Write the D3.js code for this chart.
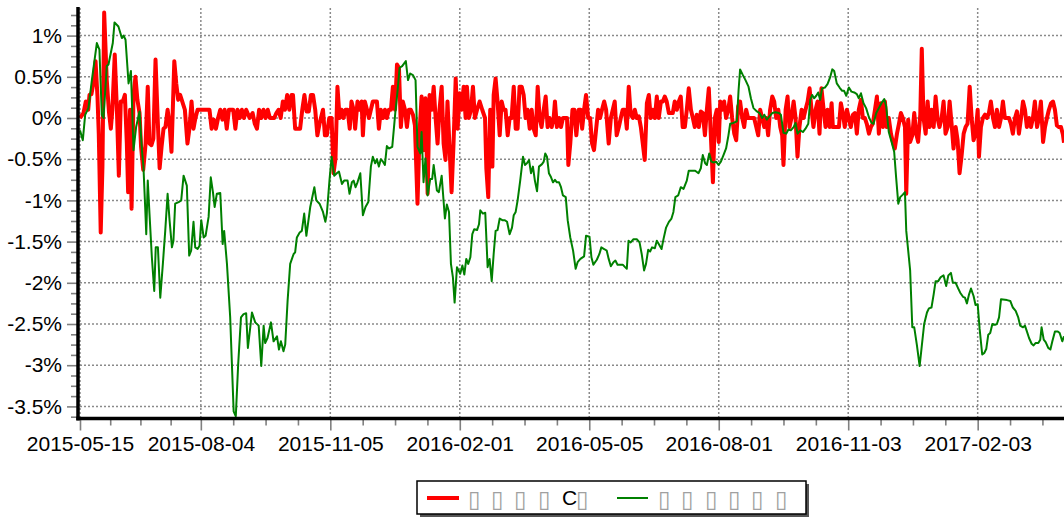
<!DOCTYPE html>
<html><head><meta charset="utf-8">
<script src="https://cdn.jsdelivr.net/npm/d3@7"></script>
<style>body{margin:0;background:#fff}svg{display:block}</style>
</head><body>
<svg id="c" width="1064" height="519"></svg>
<script>
// trading-day index of each labelled date
const tickPos = [0, 56, 116, 176, 236, 296, 356, 416];
const tickLabels = ["2015-05-15","2015-08-04","2015-11-05","2016-02-01","2016-05-05","2016-08-01","2016-11-03","2017-02-03"];
const yTickValues = [1, 0.5, 0, -0.5, -1, -1.5, -2, -2.5, -3, -3.5];
const lastIndex = 456;
// legend labels as they appear (missing-glyph boxes)
const seriesNames = ["\u25AF\u25AF\u25AF\u25AFC\u25AF", "\u25AF\u25AF\u25AF\u25AF\u25AF\u25AF"];
const seriesColors = ["#ff0000", "#008000"];

// [trading-day index, value in %]
const redPoints = [[0,0],[1.6,0.06],[2.7,0.2],[3.8,0.1],[4.4,0.28],[5.3,0.29],[6.2,0.42],[7.2,0.69],[8.1,0.26],[8.7,-0.19],[9.6,-1.39],[10.4,-0.59],[11.2,1.28],[12.4,0.46],[13.4,0.08],[14.3,-0.13],[15,0.1],[16.1,0.77],[17.1,0.1],[18,-0.7],[18.9,0.2],[19.8,0.2],[20.8,0.28],[21.7,-0.31],[22.3,-0.9],[23.2,0.1],[23.9,-1.1],[24.8,0.28],[25.7,0.5],[26.6,0.22],[27.6,0.06],[28.3,-0.35],[29.3,-0.63],[30.4,-0.31],[31.4,0.38],[32.2,-0.31],[33.1,-0.33],[34,-0.25],[35,0.71],[35.9,0.06],[36.9,-0.61],[37.8,-0.35],[38.7,-0.13],[39.6,-0.11],[40.6,0.1],[41.5,-0.07],[42.4,-0.41],[43.7,0.69],[44.6,0.42],[45.5,0.22],[46.4,0.28],[47.4,0.2],[48.6,0.1],[49.8,-0.31],[50.7,-0.13],[51.7,0.2],[52.6,-0.13],[53.5,0],[54.5,0.1],[56,0.1],[60,0.1],[61,-0.13],[62,-0.02],[63,-0.13],[64,0],[65,0.1],[66,-0.02],[67,0.1],[68,-0.13],[69,0.1],[71,0.1],[72,-0.13],[73,0.1],[74,0],[75,0.1],[76,0],[77,0.1],[78.6,0],[80,0.06],[81,-0.07],[82,-0.13],[83,0.1],[84,0],[85,0.1],[86,0],[87,0.1],[88,0],[90,0],[91,0.06],[92,0.1],[93,0],[94,0.2],[95,0.1],[96,0.28],[97,0.1],[98,0.28],[98.7,0.28],[99.7,-0.13],[100.8,-0.13],[102,-0.13],[103,0.1],[104,0.28],[105,0.08],[106,0.08],[107,0.28],[108,0.28],[109,0.1],[110,-0.21],[111,-0.07],[112.6,0.1],[113.5,-0.21],[114.4,-0.21],[115.5,0],[116.6,0],[117.5,-0.67],[118.4,-0.49],[119.3,0.38],[120.3,0],[121.2,0.1],[122.1,0],[123,0.1],[124,0.1],[125,-0.13],[125.8,0.2],[126.8,0.1],[127.5,-0.13],[128.6,0.2],[129.5,0.1],[130.5,0.2],[131.1,-0.21],[132,0.2],[133,0.1],[133.9,0],[134.8,0.1],[135.7,0.2],[137.6,0.2],[138.5,-0.13],[139.4,0.1],[140.4,0],[141.3,0.1],[142.2,0],[143.1,0.1],[144.1,0.1],[145,0.38],[146,0.1],[146.9,0.65],[147.8,0.61],[148.7,-0.11],[149.6,0.2],[150.6,0.1],[151.5,-0.11],[152.4,0.1],[153.3,0.1],[154.3,0.04],[155.2,-0.09],[156.4,-1.04],[157.4,-0.15],[158.3,0.26],[159.2,-0.39],[160.1,0.24],[161.1,-0.92],[162,0.28],[163,0.1],[163.9,0.38],[164.8,0],[165.7,-0.31],[166.6,0.1],[167.6,0.38],[168.5,-0.31],[169.4,-0.51],[170.3,0.2],[171.3,-0.39],[172.2,-0.9],[173.1,-0.31],[174.1,0.48],[175,-0.13],[175.9,0.3],[176.8,0.1],[177.8,0.38],[178.7,0],[179.3,0.38],[180.2,0],[181.2,0.1],[182.1,0.38],[183,0],[184,0.1],[185.2,0.2],[186.4,0.1],[187.7,0],[188.3,-0.61],[189.2,-0.96],[190.1,0.1],[191.1,-0.59],[191.7,0.28],[192.6,0.48],[193.5,0.2],[194.5,-0.21],[195.4,0.2],[196.3,0.1],[197.2,0.1],[198.2,-0.21],[199.1,0],[200,0],[201,0.38],[201.9,-0.13],[202.8,-0.13],[203.7,0.38],[204.7,0.38],[205.6,0.28],[206.5,0],[207.4,0.1],[208.4,-0.13],[209.3,0.1],[210.2,-0.13],[211.2,-0.21],[212.1,0.38],[213,0],[213.9,-0.11],[214.9,0.1],[215.8,0.26],[216.7,-0.11],[217.6,0],[218.6,-0.11],[219.5,0],[220.1,0.2],[221,-0.11],[222,0],[222.9,-0.11],[223.8,0],[225.7,0],[226.3,-0.57],[227.2,-0.31],[228.2,0.1],[229.1,0.1],[230,-0.21],[231.1,0.1],[232,0.1],[232.7,-0.13],[233.6,0.1],[234.5,0.28],[235.5,0],[236.4,0],[237.3,-0.31],[238.2,-0.39],[239.2,-0.13],[240.1,0.1],[241,0],[241.9,0.1],[242.9,0.2],[243.8,0.1],[245,-0.31],[246,0],[246.9,0.1],[247.8,0.2],[248.7,-0.21],[249.7,-0.11],[250.6,0],[251.5,0.1],[252.5,0.1],[253.4,-0.13],[254.3,0.38],[255.2,0.04],[256.2,0],[257.1,0.1],[258,0],[259,0.02],[259.9,-0.11],[260.8,-0.31],[261.7,-0.51],[262.7,0.18],[263.6,0.28],[264.5,0],[265.4,0.1],[266.4,0],[267.3,0.26],[268.2,0],[269.2,0.2],[270.1,0.2],[271,0.26],[271.9,0.2],[272.9,0.06],[274.7,0.06],[275.6,0.2],[276.6,0.1],[277.5,0.2],[278.4,0.26],[279.3,-0.11],[280.3,-0.11],[281.2,0.1],[282.1,0.36],[283.1,0.1],[284,0],[284.9,-0.11],[285.8,0.04],[286.8,-0.11],[287.7,0.08],[288.6,0.06],[289.6,-0.21],[290.5,0.1],[291.4,0.36],[292.3,-0.19],[293.3,-0.78],[294.2,0],[295.1,0.1],[296,-0.29],[296.7,0.2],[297.6,0.1],[298.5,0.2],[299.4,0],[300.4,0.1],[301.3,0.26],[302.2,0],[303.2,-0.19],[304.1,-0.27],[305,0.14],[305.9,0.2],[306.9,0],[307.8,-0.11],[308.7,0.1],[309.6,0],[312.4,0],[313.4,-0.11],[314.3,-0.21],[315.2,0.1],[316.1,0],[317.1,-0.11],[318,0],[318.9,-0.21],[319.8,0.1],[320.8,0.26],[321.7,0.2],[322.6,0],[323.6,0.1],[324.5,-0.11],[325.4,-0.21],[326,-0.57],[327,0.1],[327.9,0.26],[328.8,-0.11],[329.7,0],[330.7,0.2],[331.6,0],[332.5,-0.47],[333.4,-0.11],[334.4,0.1],[335.3,0],[336.2,0.1],[337.2,0.2],[338.1,0.36],[339,0.1],[339.9,-0.11],[340.9,0.1],[341.8,0.2],[342.7,-0.19],[343.6,0.36],[344.6,0.1],[345.5,-0.11],[346.4,0.1],[347.4,-0.11],[348.3,0.18],[348.9,-0.11],[349.8,-0.11],[351.7,-0.11],[352.6,0.18],[353.5,0.06],[354.4,-0.11],[355.4,0.1],[356.3,0],[357.2,-0.11],[358.2,0.04],[359.1,0.06],[360,-0.19],[360.9,0.1],[361.9,0.22],[362.8,0],[363.7,0],[364.6,-0.07],[365.6,-0.19],[366.5,-0.11],[367.4,-0.07],[368.4,0.1],[369.3,0.26],[370.2,-0.19],[371.1,0.18],[372.1,-0.11],[373,0.2],[373.9,-0.11],[374.8,0],[375.8,-0.19],[376.7,-0.29],[377.6,-0.37],[378.6,-0.19],[379.5,-0.07],[380.4,0.06],[381.3,0],[382.3,-0.11],[382.9,-0.92],[383.8,-0.02],[384.7,-0.29],[385.7,-0.21],[386.6,0.06],[387.5,-0.19],[388.4,-0.29],[389.4,0.04],[390.1,0.84],[390.9,0],[391.9,-0.19],[392.8,0.2],[393.7,-0.11],[394.6,0.1],[395.6,-0.11],[396.5,0.26],[397.4,0],[398.3,-0.11],[399.3,0],[400.2,0.2],[401.1,-0.19],[402.1,-0.11],[403,0.2],[403.9,-0.07],[404.8,-0.37],[405.8,-0.11],[406.7,-0.27],[407.6,-0.67],[408.5,-0.47],[409.5,-0.19],[410.4,-0.11],[411.3,-0.07],[412.3,0.38],[413.2,0],[414.1,-0.27],[415,-0.19],[416,0.1],[416.6,-0.47],[417.5,-0.11],[418.4,0],[419.4,0.04],[420.3,0],[421.2,0.06],[422.1,0.2],[423.1,0],[424,-0.11],[424.9,0.1],[425.9,-0.11],[426.8,0],[427.7,0.2],[428.6,0],[430.5,0],[431.4,-0.07],[432.3,-0.19],[433.3,0],[434.2,0.08],[435.1,-0.19],[436.1,0],[437,0.2],[437.9,0.1],[438.8,-0.11],[439.8,0],[440.7,-0.11],[441.6,0],[442.5,0.2],[443.5,-0.11],[444.4,0],[445.3,0.2],[446.3,-0.29],[447.2,-0.11],[448.1,0],[449,0.1],[450,0.18],[450.9,0.2],[451.8,0.1],[452.7,-0.09],[453.7,-0.11],[454.6,-0.11],[455.5,-0.2],[456,-0.3]];

const greenPoints = [[0,-0.15],[1.3,-0.27],[2.4,0.04],[3.9,0.12],[5.5,0.46],[7.8,0.91],[9,0.83],[10.1,0.04],[10.9,0],[12.4,0.63],[13.2,0.65],[15.2,0.91],[16,1.16],[17.8,1.11],[19.4,0.97],[20.2,1],[21.1,0.95],[22.5,0.42],[23.6,0.57],[24.8,-0.39],[26,-0.11],[27.6,0.08],[28.7,-0.39],[29.4,-0.59],[30.2,-1.08],[30.7,-1.41],[31.4,-0.76],[32.2,-1.16],[33.3,-1.69],[34.4,-2.1],[35.1,-1.57],[36.1,-1.57],[37.2,-2.18],[38.4,-1.77],[39.5,-1.37],[40.6,-0.92],[41.5,-1.24],[42.6,-1.57],[43.3,-1.49],[44.1,-1.04],[45.7,-1.02],[46.9,-1],[48,-0.7],[49.5,-0.82],[50.6,-1.67],[51.5,-1.61],[52.6,-1.26],[53.4,-1.57],[54.5,-1.59],[55.4,-1.55],[56.2,-1.24],[57.3,-1.45],[58.2,-1.43],[59.6,-1.2],[60.6,-0.72],[61.6,-0.9],[62.4,-1.08],[63.4,-0.92],[65,-0.91],[66.1,-1.53],[66.8,-1.37],[68.1,-1.77],[69.6,-2.42],[71.2,-3.56],[72.2,-3.62],[73.3,-2.99],[74.6,-2.42],[75.8,-2.38],[77,-2.37],[77.8,-2.79],[79.7,-2.36],[81.2,-2.48],[82.8,-2.52],[84,-3.01],[85.1,-2.52],[85.8,-2.73],[86.9,-2.67],[88.5,-2.48],[89.7,-2.71],[91.3,-2.65],[92.2,-2.81],[93.1,-2.71],[94.3,-2.83],[95.1,-2.75],[96.2,-2.22],[97.4,-1.77],[99,-1.65],[99.7,-1.63],[100.5,-1.45],[101.8,-1.39],[102.8,-1.37],[103.9,-1.16],[104.9,-1.43],[106.7,-1.08],[108.6,-0.84],[109.5,-1],[111,-1.04],[112.6,-1.14],[113.7,-1.26],[114.4,-1.16],[115.6,-0.76],[116.6,-0.47],[117.8,-0.7],[119,-0.67],[120,-0.65],[121.4,-0.8],[122.4,-0.76],[124,-0.76],[124.9,-0.92],[126,-0.78],[126.8,-0.76],[127.7,-0.84],[128.6,-0.78],[129.9,-0.67],[131.1,-1.18],[132.3,-1.08],[133.6,-1.02],[134.8,-0.59],[135.7,-0.47],[136.8,-0.55],[137.6,-0.5],[138.5,-0.59],[139.4,-0.5],[140.4,-0.53],[141.3,-0.57],[142.2,-0.34],[143.1,-0.37],[144.7,-0.35],[146.1,0.06],[147.2,0.34],[148.1,0.61],[149.3,0.63],[151,0.69],[152,0.46],[153,0.54],[154.3,0.52],[155.5,0.46],[156.4,-0.35],[157.7,-0.43],[158.3,-0.17],[159.2,-0.78],[160.1,-0.49],[161.1,-0.94],[162.3,-0.74],[163.2,-0.74],[163.9,-0.57],[165.4,-0.88],[166.3,-0.9],[167.6,-0.7],[169.1,-1.22],[170,-1.05],[171,-1.14],[171.9,-1.77],[172.8,-1.93],[173.6,-2.24],[174.7,-1.81],[176.2,-1.89],[177.2,-1.79],[178.1,-1.9],[179,-1.71],[179.9,-1.77],[180.9,-1.69],[181.8,-1.41],[182.7,-1.35],[184,-1.36],[184.9,-1.29],[185.5,-1.12],[186.7,-1.16],[187.8,-1.15],[188.9,-1.81],[189.8,-1.71],[190.8,-1.98],[191.7,-1.65],[192.6,-1.37],[193.5,-1.36],[194.5,-1.22],[195.7,-1.24],[196.9,-1.24],[197.9,-1.26],[199.1,-1.41],[200.2,-1.33],[201,-1.18],[201.9,-1.14],[202.8,-1],[204,-0.76],[205.3,-0.47],[206.2,-0.57],[207.1,-0.55],[208.1,-0.51],[209,-0.67],[209.9,-0.59],[210.8,-0.76],[211.8,-0.89],[212.7,-0.59],[214.1,-0.56],[214.9,-0.53],[215.6,-0.43],[216.4,-0.47],[217.3,-0.67],[218.3,-0.72],[219.2,-0.78],[220.1,-0.75],[221,-0.78],[222,-0.78],[222.9,-0.84],[223.8,-0.94],[225.1,-0.96],[226,-1.24],[227.2,-1.45],[228.5,-1.61],[229.7,-1.83],[230.6,-1.75],[231.9,-1.71],[233.6,-1.68],[234.5,-1.43],[236.1,-1.44],[237,-1.69],[237.9,-1.78],[239.5,-1.72],[240.7,-1.65],[241.6,-1.57],[242.9,-1.59],[244.1,-1.61],[245,-1.71],[246,-1.8],[247.2,-1.75],[248.1,-1.73],[249.1,-1.78],[251.5,-1.78],[252.6,-1.81],[253.4,-1.83],[254.2,-1.49],[255.2,-1.51],[256.5,-1.47],[258,-1.47],[259.3,-1.51],[260.3,-1.65],[261.4,-1.85],[262.3,-1.77],[263.3,-1.6],[264.2,-1.62],[265.1,-1.57],[266.4,-1.58],[267.3,-1.49],[268.2,-1.53],[269.5,-1.59],[270.4,-1.47],[271.6,-1.33],[272.9,-1.26],[274.1,-1.22],[275,-1.14],[275.9,-0.96],[277.2,-0.94],[278.4,-0.84],[279.7,-0.86],[281.2,-0.76],[282.1,-0.64],[285.1,-0.64],[286.6,-0.67],[287.7,-0.61],[288.6,-0.45],[289.7,-0.55],[290.5,-0.57],[291.6,-0.43],[292.6,-0.53],[293.6,-0.54],[294.8,-0.53],[295.9,-0.57],[297,-0.53],[298.2,-0.45],[299.4,-0.37],[300.5,-0.21],[301.3,-0.07],[302.8,-0.06],[304.4,-0.04],[305.2,0.34],[305.9,0.59],[307.2,0.52],[308.4,0.46],[309.8,0.38],[310.9,0.24],[312.1,0.12],[313.7,0.08],[314.9,0.06],[316.1,0],[317.1,0.04],[318.3,-0.02],[319.5,0.02],[320.8,0.06],[322.3,0.07],[323.9,0.06],[324.8,0.04],[326,-0.18],[327.3,-0.19],[328.3,-0.14],[329.4,-0.15],[330.7,-0.11],[331.6,-0.06],[332.5,-0.19],[333.8,-0.15],[335,-0.17],[336.2,-0.13],[337.5,-0.07],[338.4,0.22],[339.3,0.28],[340.2,0.24],[341.2,0.27],[342.1,0.31],[343,0.22],[343.9,0.36],[345.2,0.37],[346.4,0.41],[347.7,0.5],[348.6,0.59],[349.5,0.57],[350.7,0.42],[352,0.37],[353.2,0.33],[354.1,0.33],[355.1,0.27],[356.3,0.37],[357.5,0.32],[358.8,0.31],[360,0.29],[360.9,0.24],[361.9,0.3],[363.1,0.18],[364.3,0.12],[365.6,0.01],[366.8,-0.06],[367.7,-0.07],[369,0.06],[370.2,0.12],[371.4,0.18],[372.7,0.23],[373.6,0.14],[374.8,-0.17],[376.1,-0.29],[377.3,-0.41],[378.2,-0.72],[379.2,-1.04],[380.1,-0.96],[381.3,-0.93],[382.3,-0.9],[382.9,-1.37],[383.8,-1.61],[384.7,-1.85],[385.7,-2.54],[386.6,-2.54],[387.8,-2.75],[389.1,-3.01],[390,-2.79],[391.2,-2.5],[392.5,-2.36],[393.4,-2.31],[394.6,-2.3],[395.6,-2.14],[396.5,-1.98],[397.7,-1.98],[398.9,-1.93],[400.2,-1.91],[401.4,-2.04],[402.4,-1.91],[403.6,-1.88],[404.5,-2],[405.8,-2],[407,-2.07],[407.9,-2.12],[409.2,-2.17],[410.1,-2.18],[411,-2.25],[412,-2.14],[412.9,-2.07],[414.1,-2.16],[415,-2.27],[416,-2.26],[416.9,-2.56],[418.1,-2.87],[419.1,-2.85],[420,-2.8],[420.9,-2.63],[421.8,-2.61],[422.8,-2.5],[424,-2.51],[424.9,-2.5],[425.9,-2.42],[426.8,-2.2],[429.6,-2.21],[431.1,-2.22],[432.3,-2.3],[433.6,-2.34],[434.8,-2.42],[435.7,-2.52],[437,-2.54],[437.9,-2.52],[438.8,-2.59],[439.8,-2.67],[441,-2.74],[441.9,-2.76],[442.9,-2.73],[444.1,-2.73],[445,-2.69],[445.6,-2.54],[446.6,-2.69],[447.5,-2.72],[448.7,-2.79],[449.7,-2.81],[450.6,-2.71],[451.8,-2.59],[453.1,-2.59],[454,-2.61],[455.2,-2.71],[456,-2.65]];

const svg = d3.select("#c");
const FONT = "'Liberation Sans', Arial, sans-serif";
const L = 80, R = 1064, T = 8, B = 418.5;
const x = d3.scaleLinear().domain([0, lastIndex]).range([L, R]);
const y = d3.scaleLinear().domain([(118 - B) / 82.4, (118 - T) / 82.4]).range([B, T]);

// grid
const grid = svg.append("g").attr("stroke", "#8a8a8a").attr("stroke-width", 1.5).attr("stroke-dasharray", "2,2");
yTickValues.forEach(v => grid.append("line").attr("x1", L).attr("x2", R).attr("y1", y(v)).attr("y2", y(v)));
tickPos.forEach(p => grid.append("line").attr("x1", x(p)).attr("x2", x(p)).attr("y1", T).attr("y2", B));

// clip
svg.append("clipPath").attr("id", "clip").append("rect").attr("x", L - 3).attr("y", 0).attr("width", R - L + 3).attr("height", B);

const line = d3.line().x(d => x(d[0])).y(d => y(d[1]));
const plot = svg.append("g").attr("clip-path", "url(#clip)");
plot.append("path").datum(redPoints).attr("d", line).attr("fill", "none")
  .attr("stroke", seriesColors[0]).attr("stroke-width", 4).attr("stroke-linejoin", "round");
plot.append("path").datum(greenPoints).attr("d", line).attr("fill", "none")
  .attr("stroke", seriesColors[1]).attr("stroke-width", 2).attr("stroke-linejoin", "round");

// minor tick values
const yMinor = d3.range(-3.625, 1.3, 0.125).filter(v => Math.abs(v * 2 - Math.round(v * 2)) > 1e-6);
const xMinor = [];
for (let i = 0; i < tickPos.length - 1; i++) {
  const a = tickPos[i], b = tickPos[i + 1];
  for (let k = 1; k < 4; k++) xMinor.push(a + (b - a) * k / 4);
}
for (let p = tickPos[tickPos.length - 1] + 15; p <= lastIndex; p += 15) xMinor.push(p);

const AX = 78;
// y axis
const yAxisMinor = svg.append("g").attr("transform", `translate(${AX},0)`)
  .call(d3.axisLeft(y).tickValues(yMinor).tickSize(7).tickSizeOuter(0).tickFormat(""));
const yAxis = svg.append("g").attr("transform", `translate(${AX},0)`)
  .call(d3.axisLeft(y).tickValues(yTickValues).tickSize(11).tickSizeOuter(0).tickPadding(5)
    .tickFormat(v => (Math.round(v * 10) / 10) + "%"));
// x axis
const xAxisMinor = svg.append("g").attr("transform", `translate(0,${B})`)
  .call(d3.axisBottom(x).tickValues(xMinor).tickSize(7).tickSizeOuter(0).tickFormat(""));
const xAxis = svg.append("g").attr("transform", `translate(0,${B})`)
  .call(d3.axisBottom(x).tickValues(tickPos).tickSize(12).tickSizeOuter(0).tickPadding(6)
    .tickFormat((d, i) => tickLabels[i]));
[yAxisMinor, yAxis, xAxisMinor, xAxis].forEach(g => {
  g.select(".domain").remove();
  g.selectAll(".tick line").attr("stroke", "#808080").attr("stroke-width", 1.6);
  g.selectAll("text").attr("font-family", FONT).attr("font-size", 21).attr("fill", "#000");
});
// thick axis lines
svg.append("line").attr("x1", AX).attr("x2", AX).attr("y1", 7).attr("y2", B + 2)
  .attr("stroke", "#000").attr("stroke-width", 3.5);
svg.append("line").attr("x1", AX - 1.7).attr("x2", R).attr("y1", B).attr("y2", B)
  .attr("stroke", "#000").attr("stroke-width", 3.5);

// legend
const lg = svg.append("g");
lg.append("rect").attr("x", 420).attr("y", 484).attr("width", 389).attr("height", 33).attr("fill", "#555");
lg.append("rect").attr("x", 417).attr("y", 481).attr("width", 389).attr("height", 33)
  .attr("fill", "#fff").attr("stroke", "#000").attr("stroke-width", 1.5);
const legendItems = [
  {sx: 427, ex: 459, w: 4, gx: [468, 491, 514, 538, 562, 576]},
  {sx: 617, ex: 648, w: 2, gx: [658, 681, 705, 728, 751, 775]}
];
legendItems.forEach((it, k) => {
  lg.append("line").attr("x1", it.sx).attr("x2", it.ex).attr("y1", 498).attr("y2", 498)
    .attr("stroke", seriesColors[k]).attr("stroke-width", it.w);
  const t = lg.append("text").attr("y", 505).attr("font-family", FONT).attr("font-size", 21);
  Array.from(seriesNames[k]).forEach((ch, j) => {
    const box = ch === "\u25AF";
    t.append("tspan").attr("x", it.gx[j]).attr("fill", box ? "#a0a0a0" : "#000")
      .attr("font-family", box ? "'DejaVu Sans', sans-serif" : FONT)
      .attr("font-size", box ? 23 : 21).attr("y", box ? 507 : 505).text(ch);
  });
});
</script>
</body></html>
